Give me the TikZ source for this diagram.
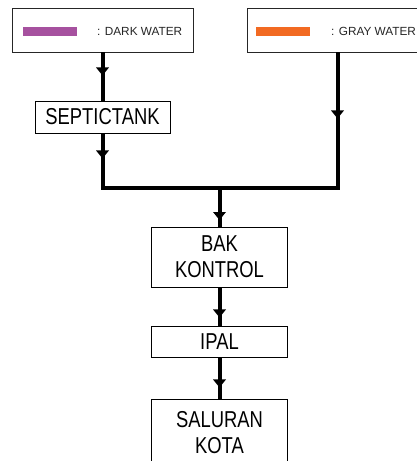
\documentclass[tikz,border=0pt]{standalone}
\usepackage{fontspec}
\setmainfont{Liberation Sans}
\newfontfamily\cadfont[FakeStretch=0.8]{Liberation Sans}
\usetikzlibrary{arrows.meta,decorations.markings}
\definecolor{darkw}{HTML}{A6519F}
\definecolor{grayw}{HTML}{F26A22}
\begin{document}
\begin{tikzpicture}[x=1pt,y=-1pt,
  box/.style={draw=black,line width=0.9pt,fill=white,inner sep=0pt,align=center,
    minimum width=136pt,font=\cadfont\fontsize{23}{26}\selectfont},
  legend/.style={draw=black!85,line width=0.9pt,fill=white,minimum width=181pt,
    minimum height=44pt,inner sep=0pt},
  legtext/.style={anchor=base west,inner sep=0pt,text=black!85,font=\fontsize{11.8}{14}\selectfont},
  bar/.style={inner sep=0pt,minimum width=54pt,minimum height=9pt},
  flow/.style={line width=4pt,line join=miter},
  midarrow/.style={postaction={decorate},decoration={markings,
    mark=at position #1 with {\arrow{Triangle[width=13pt,length=8pt,line width=0pt]}}}}
]
\useasboundingbox (0,0) rectangle (417,461);
\begin{scope}
\clip (0,0) rectangle (417,461);
% legend boxes
\node[legend] (dark) at (102.5,30) {};
\node[legend] (gray) at (337.5,30) {};
\node[bar,fill=darkw] (dbar) at (50,31.5) {};
\node[bar,fill=grayw] (gbar) at (283,31.5) {};
\node[legtext] (dtxt) at (97,35.3) {: DARK WATER};
\node[legtext] (gtxt) at (331,35.3) {: GRAY WATER};
% process boxes
\node[box,minimum width=135pt,minimum height=32pt] (septic) at (102.5,117) {SEPTICTANK};
\node[box,minimum height=60pt] (bak) at (219.5,257) {BAK\\KONTROL};
\node[box,minimum height=31pt] (ipal) at (219.5,341.5) {IPAL};
\node[box,minimum height=66pt,anchor=north] (sal) at (219.5,399) {SALURAN\\KOTA};
\coordinate (j) at (219.5,188);
% connectors
\draw[flow,midarrow=23pt] (dark.south) -- (septic.north);
\draw[flow,midarrow=25pt] (septic.south) |- (j);
\draw[flow,midarrow=66pt] (gray.south) |- (j);
\draw[flow,midarrow=32pt] (j) -- (bak.north);
\draw[flow,midarrow=30pt] (bak.south) -- (ipal.north);
\draw[flow,midarrow=30pt] (ipal.south) -- (sal.north);
\end{scope}
\end{tikzpicture}
\end{document}
